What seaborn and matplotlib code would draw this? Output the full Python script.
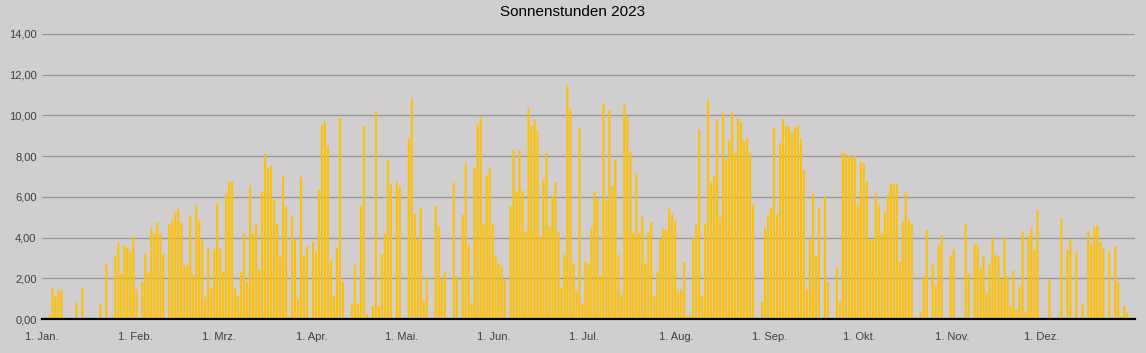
import numpy as np
import pandas as pd
import matplotlib
matplotlib.use("Agg")
import matplotlib.pyplot as plt
import seaborn as sns

# Daily sunshine hours 2023
jan = [0, 0, 0.2, 1.5, 1.1, 1.4, 1.4, 0, 0, 0.05, 0, 0.8, 0, 1.5, 0, 0, 0, 0, 0, 0.7,
       0, 2.7, 0, 0.1, 3.1, 3.75, 2.2, 3.6, 3.5, 3.3, 4.05]
feb = [1.46, 0, 1.84, 3.23, 2.28, 4.49, 4.2, 4.75, 4.18, 3.18, 0, 4.66, 4.82, 5.23,
       5.41, 4.74, 2.66, 2.62, 5.07, 2.16, 5.6, 4.84, 3.92, 1.07, 3.48, 1.5, 3.43, 5.69]
mar = [3.48, 2.3, 6.15, 6.75, 6.75, 1.5, 1.13, 2.33, 4.21, 1.84, 6.56, 4.21, 4.62, 2.41,
       6.23, 8.1, 7.41, 7.52, 5.85, 4.66, 3.07, 7.0, 5.52, 0.1, 5.07, 3.89, 0.97, 6.97,
       3.07, 3.56, 0]
apr = [3.8, 3.28, 6.34, 9.54, 9.7, 8.5, 2.85, 1.13, 3.5, 9.87, 1.84, 0, 0, 0.74, 2.69,
       0.74, 5.57, 9.5, 0.2, 0, 0.64, 10.2, 0.64, 3.18, 4.18, 7.82, 6.59, 0, 6.75, 6.51]
mai = [0, 0, 8.85, 10.8, 5.15, 3.92, 5.41, 0.9, 2.08, 0, 0, 5.57, 4.54, 1.92, 2.28, 0,
       0, 6.7, 2.08, 0, 5.11, 7.66, 3.64, 0.77, 7.41, 9.54, 9.95, 4.62, 7.03, 7.38, 4.7]
jun = [3.1, 2.74, 2.57, 1.95, 0, 5.52, 8.31, 6.26, 8.31, 6.3, 4.3, 10.36, 9.49, 9.79,
       9.25, 4.05, 6.87, 8.15, 4.57, 6.05, 6.72, 4.26, 1.56, 3.15, 11.5, 10.3, 2.74, 1.34,
       9.38, 0.74]
jul = [2.82, 2.7, 4.46, 6.23, 5.9, 2.13, 10.57, 5.85, 10.25, 6.51, 7.85, 3.15, 1.18,
       10.52, 9.95, 8.23, 4.21, 7.16, 4.21, 5.03, 2.74, 4.3, 4.77, 1.12, 2.28, 3.92, 4.46,
       4.38, 5.44, 5.16, 4.79]
aug = [1.34, 1.46, 2.82, 0.15, 0.18, 3.97, 4.62, 9.3, 1.13, 4.67, 10.77, 6.7, 7.03, 9.82,
       5.03, 10.11, 7.85, 8.8, 10.15, 8.15, 9.85, 9.67, 8.72, 8.89, 8.15, 5.61, 0, 0, 0.85,
       4.41, 5.11]
sep = [5.44, 9.38, 5.11, 8.64, 9.82, 9.49, 9.46, 9.13, 9.41, 9.5, 8.84, 7.33, 1.46, 3.89,
       6.15, 3.1, 5.49, 0, 6.0, 1.8, 0, 0, 2.57, 0.85, 8.15, 8.11, 8.02, 7.9, 8.0, 5.6]
okt = [7.69, 7.66, 6.75, 3.89, 3.89, 6.18, 5.61, 4.21, 5.23, 6.1, 6.67, 6.62, 6.59, 2.82,
       4.79, 6.21, 4.9, 4.67, 0, 0, 0.32, 2.08, 4.38, 0, 2.66, 1.67, 3.64, 4.13, 0, 0, 3.07]
nov = [3.43, 0, 0, 0, 4.66, 2.21, 0, 3.67, 3.64, 2.49, 3.1, 1.26, 2.7, 4.02, 3.15, 3.07,
       1.95, 4.02, 2.1, 0.64, 2.38, 0.44, 1.59, 4.3, 0.36, 4.08, 4.49, 3.39, 5.36, 0]
dez = [0, 0, 1.95, 0, 0, 0.11, 4.95, 0, 3.39, 3.92, 0, 3.31, 0, 0.72, 0, 4.3, 3.64, 4.54,
       4.59, 3.8, 3.48, 0, 3.31, 0, 3.59, 1.79, 0.15, 0.64, 0.31, 0, 0]

month_labels = ["1. Jan.", "1. Feb.", "1. Mrz.", "1. Apr.", "1. Mai.", "1. Jun.",
                "1. Jul.", "1. Aug.", "1. Sep.", "1. Okt.", "1. Nov.", "1. Dez."]

hours = jan + feb + mar + apr + mai + jun + jul + aug + sep + okt + nov + dez
dates = pd.date_range("2023-01-01", "2023-12-31", freq="D")
df = pd.DataFrame({"Datum": dates, "Stunden": hours})
df["Tag"] = np.arange(len(df))

bg = "#d0cece"
sns.set_style("white")
plt.rcParams["font.family"] = ["Liberation Sans", "DejaVu Sans"]

fig = plt.figure(figsize=(11.46, 3.53), dpi=100, facecolor=bg)
ax = fig.add_axes([0.0367, 0.0963, 0.9535, 0.8074])
ax.set_facecolor(bg)

sns.barplot(data=df, x="Tag", y="Stunden", color="#ffc000", width=0.68,
            saturation=1, native_scale=True, linewidth=0, edgecolor="none", ax=ax)
# no pixel snapping -> even bar widths like the reference
for p in ax.patches:
    p.set_snap(False)

ax.set_xlim(-0.5, len(df) - 0.5)
ax.set_ylim(0, 14)
ax.set_yticks(np.arange(0, 15, 2))
ax.set_yticklabels([f"{v:.2f}".replace(".", ",") for v in np.arange(0, 15, 2)],
                   fontsize=8, color="#404040")
ax.yaxis.grid(True, color="#969696", linewidth=0.9)
ax.set_axisbelow(True)

# month-start ticks (plus year end)
month_starts = df.index[df["Datum"].dt.day == 1].tolist()
ax.set_xticks([m - 0.5 for m in month_starts] + [len(df) - 0.5])
ax.set_xticklabels(month_labels + [""], fontsize=8, color="#404040")
ax.tick_params(axis="x", direction="inout", length=7, width=1.5, color="black", pad=6)
ax.tick_params(axis="y", length=0, pad=4)

for s in ["top", "right", "left"]:
    ax.spines[s].set_visible(False)
ax.spines["bottom"].set_color("black")
ax.spines["bottom"].set_linewidth(1.6)

ax.set_xlabel("")
ax.set_ylabel("")
fig.suptitle("Sonnenstunden 2023", fontsize=11, color="black", y=0.985)

fig.savefig("out.png", dpi=100, facecolor=bg)
